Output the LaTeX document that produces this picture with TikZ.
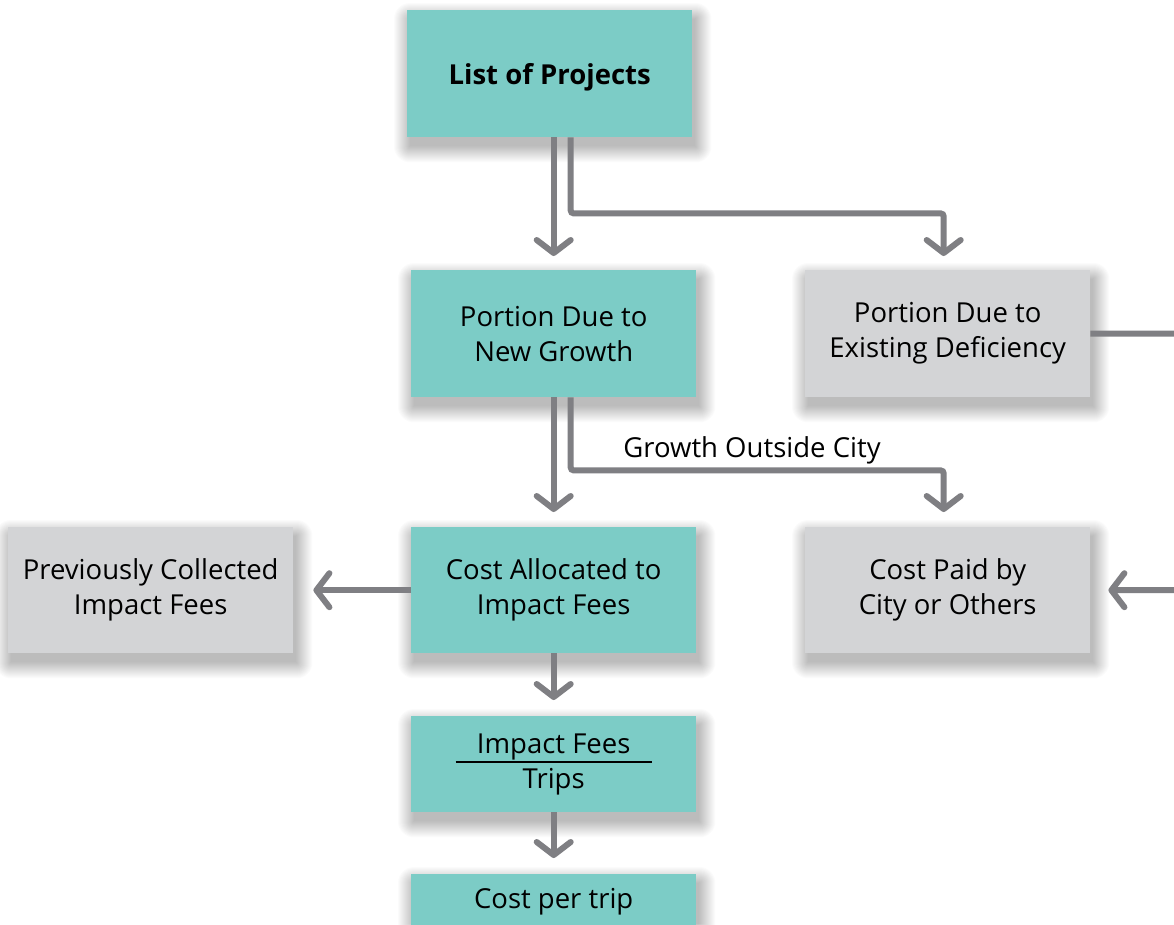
\documentclass[tikz,border=0pt]{standalone}
\usepackage{fontspec}
\setmainfont{Open Sans}
\usetikzlibrary{arrows.meta,calc,backgrounds}
\definecolor{tealbg}{HTML}{7CCCC6}
\definecolor{graybg}{HTML}{D3D4D6}
\definecolor{arrowc}{HTML}{7F7F83}
\begin{document}
\begin{tikzpicture}[x=1pt,y=-1pt,
  box/.style={minimum width=285pt, minimum height=127pt, anchor=north west, inner sep=0pt, align=center,
    font=\fontsize{27.5}{35}\selectfont},
  tealbox/.style={box, fill=tealbg},
  graybox/.style={box, fill=graybg},
  connline/.style={draw=arrowc, line width=6pt, rounded corners=3pt},
  conn/.style={connline, -{Straight Barb[length=13pt,width=34pt,round]}},
  lbl/.style={font=\fontsize{27.5}{35}\selectfont},
  shade/.style={fill=black, fill opacity=0.016}
]
\useasboundingbox (0,0) rectangle (1174,924);

\node[tealbox, font=\bfseries\fontsize{27.5}{35}\selectfont] (lp) at (407,10) {\raisebox{-11pt}[0pt][0pt]{List of Projects}};
\node[tealbox] (ng) at (411,270) {Portion Due to\\New Growth};
\node[graybox] (ed) at (805,270) {Portion Due to\\Existing Deficiency};
\node[tealbox, minimum height=126pt] (ca) at (411,527) {Cost Allocated to\\Impact Fees};
\node[graybox, minimum height=126pt] (pc) at (8,527) {Previously Collected\\Impact Fees};
\node[graybox, minimum height=126pt] (cp) at (805,527) {Cost Paid by\\City or Others};
\node[tealbox, minimum height=96pt] (if) at (411,716) {Impact Fees\\Trips};
\node[tealbox, minimum height=54pt] (ct) at (411,874) {Cost per trip};
\node[lbl] (goc) at (752,450) {Growth Outside City};

\begin{scope}[on background layer]
  \fill[white] (0,0) rectangle (1174,924);
  \foreach \n in {lp,ng,ed,ca,pc,cp,if,ct}{
    \foreach \k in {0,...,16}{
      \fill[shade, rounded corners=\k pt] ($(\n.north west)+(3-\k,9-\k)$) rectangle ($(\n.south east)+(3+\k,9+\k)$);
    }
  }
\end{scope}

\draw[line width=1.6pt] ([xshift=-98pt,yshift=2pt]if.center) -- ([xshift=98pt,yshift=2pt]if.center);

\coordinate (rc) at (1200,460);

\draw[conn] (lp.south -| ng.north) -- ([yshift=14pt]ng.north);
\draw[conn] ([xshift=17pt]lp.south -| ng.north) -- ++(0,76) -| ([xshift=-4pt,yshift=14pt]ed.north);
\draw[conn] (ng.south) -- ([yshift=15pt]ca.north);
\draw[conn] ([xshift=17pt]ng.south) -- ++(0,73) -| ([xshift=-4pt,yshift=15pt]cp.north);
\draw[conn] (ca.west) -- ([xshift=20pt]pc.east);
\draw[conn] (ed.east) -| (rc) |- ([xshift=18pt]cp.east);
\draw[conn] (ca.south) -- ([yshift=16pt]if.north);
\draw[conn] (if.south) -- ([yshift=16pt]ct.north);
\end{tikzpicture}
\end{document}
